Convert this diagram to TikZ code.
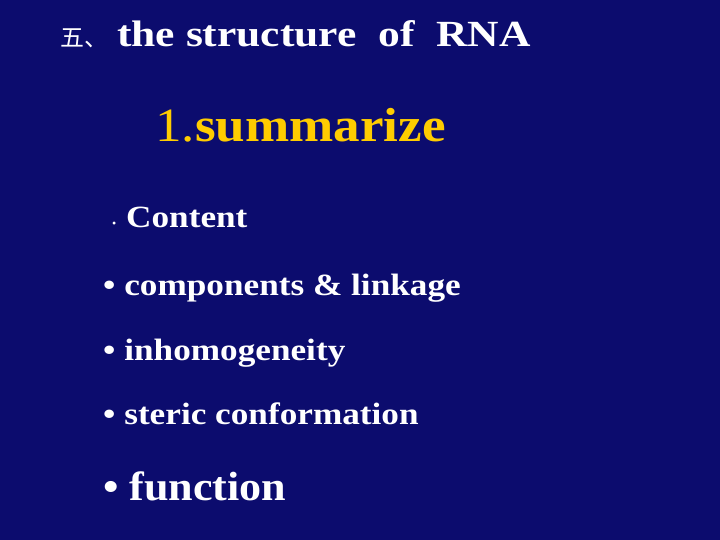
\documentclass[tikz,border=0pt]{standalone}
\usepackage{fontspec}
\setmainfont{Liberation Serif}
\newfontfamily\cjk{Noto Sans CJK SC}
\definecolor{slidebg}{RGB}{12,12,110}
\definecolor{headyellow}{RGB}{255,204,0}
\newcommand{\wide}[1]{\addfontfeatures{FakeStretch=#1}}
\begin{document}
\begin{tikzpicture}[x=1bp,y=-1bp,
  txt/.style={anchor=base west,inner sep=0pt,text=white,font=\bfseries\fontsize{31}{34}\selectfont\wide{1.14}}]

% Background
\fill[slidebg] (0,0) rectangle (720,540);
\useasboundingbox (0,0) rectangle (720,540);

% Title
\node[txt,font=\cjk\fontsize{24}{26}\selectfont] (num) at (60,47) {五、};
\node[txt,font=\bfseries\fontsize{37}{40}\selectfont\wide{1.18}] (title) at (117,47) {the structure\ \ of\ \ RNA};

% Heading
\node[txt,text=headyellow,font=\fontsize{48}{50}\selectfont\wide{1.11}] (head) at (155,142) {1.\textbf{summarize}};

% Items
\node[txt,font=\fontsize{12}{14}\selectfont] (dot) at (112,228) {•};
\node[txt] (content) at (126,228) {Content};
\node[txt] (comp) at (103,295) {• components \& linkage};
\node[txt] (inho) at (103,360) {• inhomogeneity};
\node[txt] (steric) at (103,424) {• steric conformation};
\node[txt,font=\bfseries\fontsize{41}{44}\selectfont\wide{1.08}] (func) at (103,500) {• function};

\end{tikzpicture}
\end{document}
